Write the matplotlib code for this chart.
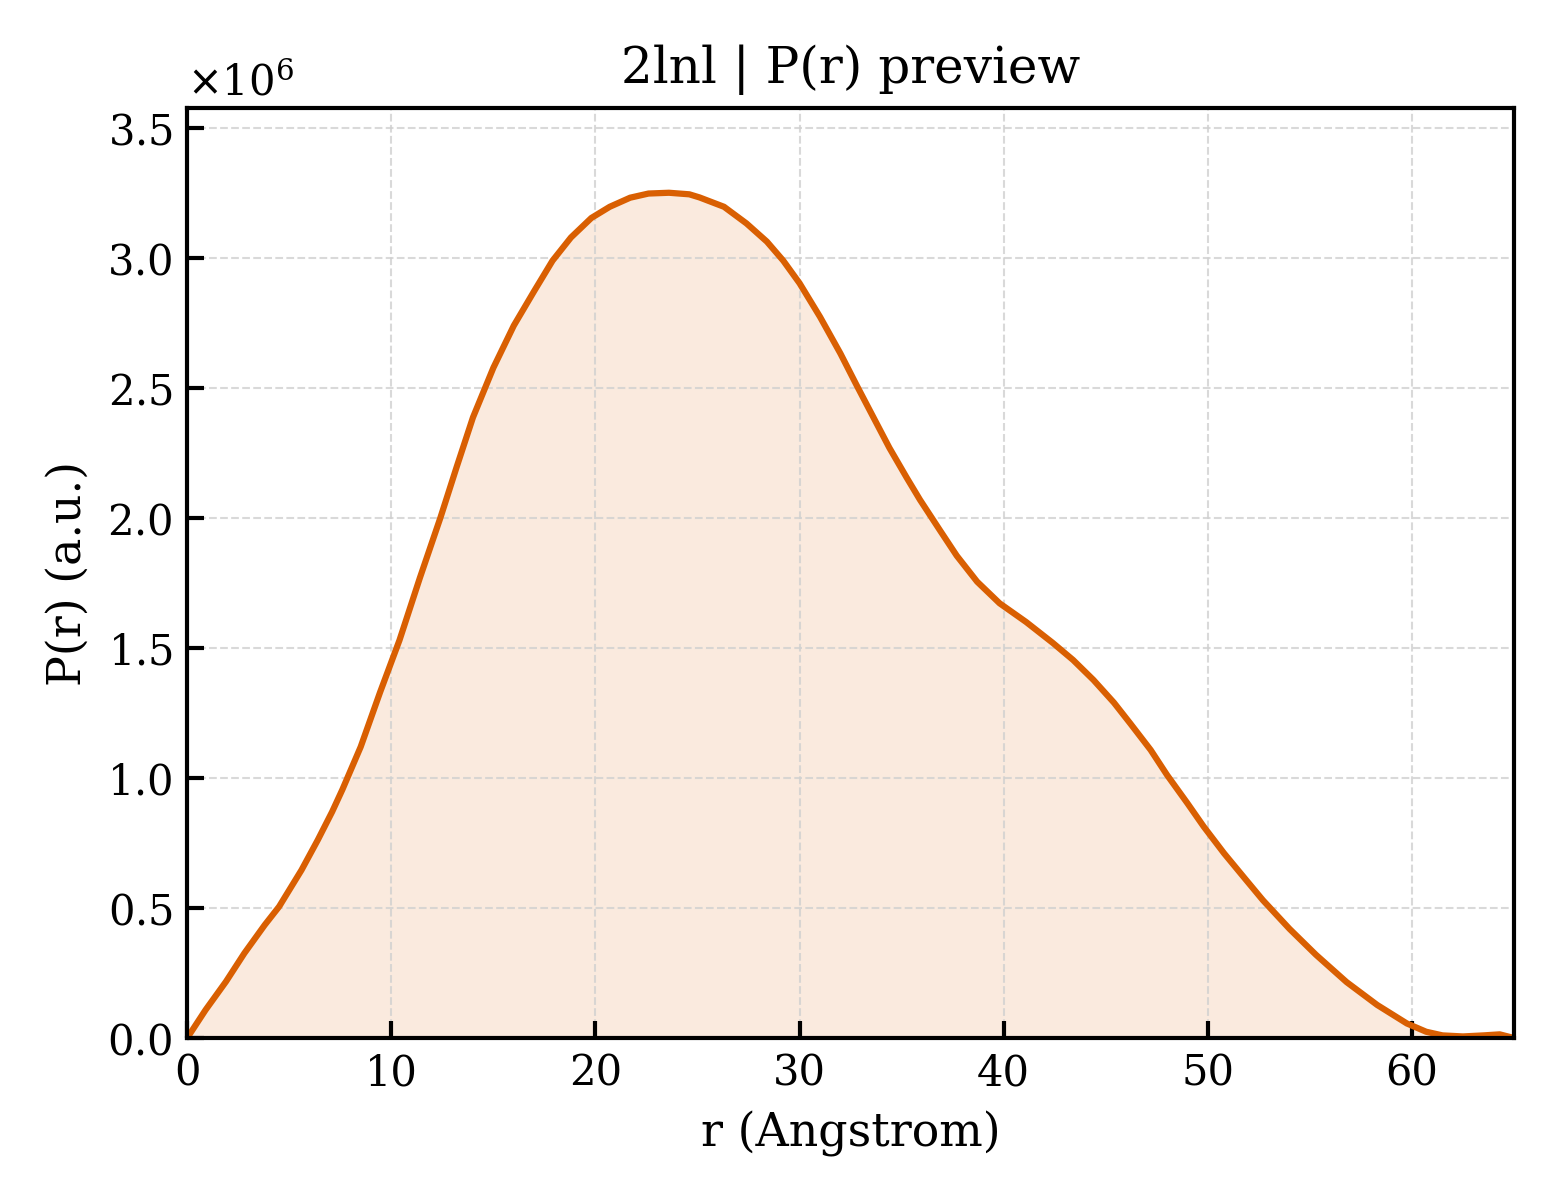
import matplotlib
matplotlib.use("Agg")
import matplotlib.pyplot as plt
import numpy as np

# P(r) values (r in Angstrom, P in units of 1e6)
r_vals = [0.0, 0.9, 1.9, 2.8, 3.8, 4.5, 5.6, 6.4, 7.1, 7.6, 8.5, 9.45, 10.4,
          11.4, 12.4, 13.2, 14.0, 15.0, 16.0, 17.0, 17.9, 18.8, 19.8, 20.7,
          21.7, 22.6, 23.6, 24.6, 25.1, 26.3, 27.4, 28.4, 29.2, 30.0, 31.0,
          32.0, 32.8, 33.6, 34.4, 35.25, 35.9, 36.9, 37.7, 38.7, 39.8, 41.1,
          42.4, 43.4, 44.4, 45.4, 46.2, 47.2, 48.0, 49.0, 49.8, 50.8, 51.8,
          52.7, 54.0, 55.3, 56.8, 58.3, 59.75, 60.7, 61.5, 62.5, 63.5, 64.3,
          65.0]
p_vals = [0.0, 0.108, 0.217, 0.326, 0.435, 0.505, 0.646, 0.762, 0.87, 0.955,
          1.12, 1.33, 1.53, 1.77, 2.0, 2.196, 2.387, 2.578, 2.74, 2.873, 2.99,
          3.079, 3.154, 3.197, 3.232, 3.248, 3.251, 3.245, 3.233, 3.197,
          3.133, 3.063, 2.99, 2.903, 2.774, 2.633, 2.51, 2.39, 2.27, 2.155,
          2.07, 1.95, 1.855, 1.755, 1.672, 1.6, 1.52, 1.454, 1.377,
          1.29, 1.21, 1.108, 1.012, 0.903, 0.813, 0.71, 0.615, 0.53, 0.42,
          0.32, 0.215, 0.127, 0.056, 0.024, 0.01, 0.006, 0.01, 0.014, 0.0]

r = np.array(r_vals)
p = np.array(p_vals) * 1e6

plt.rcParams['font.family'] = 'DejaVu Serif'
plt.rcParams['mathtext.fontset'] = 'dejavusans'

fig = plt.figure(figsize=(5.2, 4.0), dpi=300)
ax = fig.add_axes([0.12, 0.135, 0.8505, 0.775])

color = '#d95f02'
ax.fill_between(r, 0, p, color=color, alpha=0.13, linewidth=0)
ax.plot(r, p, color=color, linewidth=1.5)

ax.set_xlim(0, 65)
ax.set_ylim(0, 3.577e6)
ax.set_xticks([0, 10, 20, 30, 40, 50, 60])
ax.set_yticks(np.arange(0, 3.6e6, 0.5e6))
ax.ticklabel_format(axis='y', style='sci', scilimits=(0, 0), useMathText=True)

ax.tick_params(direction='in', length=4, width=1, labelsize=10)
for s in ax.spines.values():
    s.set_linewidth(1.0)
ax.grid(True, linestyle='--', linewidth=0.5, color='#d0d0d0', alpha=0.8)

ax.set_xlabel('r (Angstrom)', fontsize=11)
ax.set_ylabel('P(r) (a.u.)', fontsize=11)
ax.set_title('2lnl | P(r) preview', fontsize=12)

fig.savefig('out.png', dpi=300)
